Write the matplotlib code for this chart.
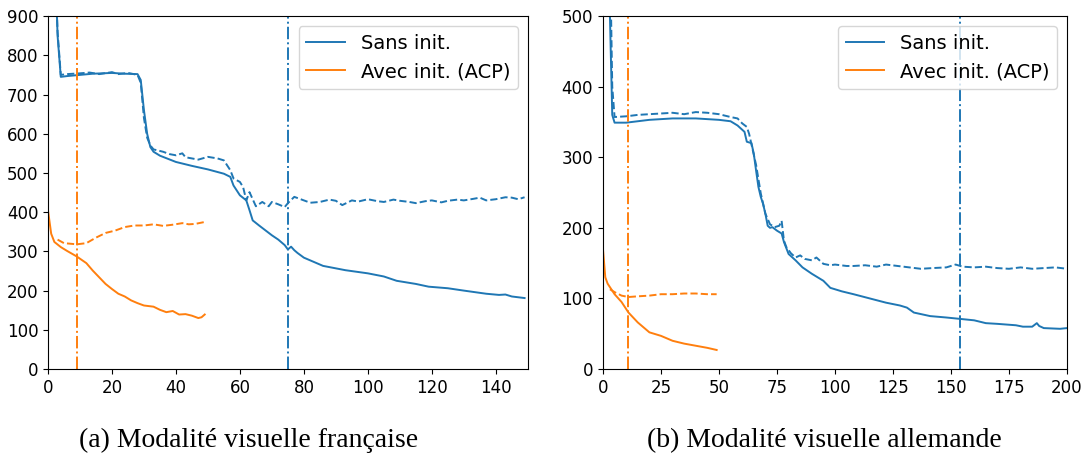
import matplotlib.pyplot as plt

# (a) visual modality, French
fr_x_sans = [0, 1, 2, 3, 4, 6, 10, 14, 20, 24, 28, 29, 30, 31, 32, 33, 35, 40, 45, 50, 55, 57, 58, 60, 62, 63,
             64, 66, 70, 72, 74, 75, 76, 77, 78, 80, 86, 93, 100, 105, 109, 115, 119, 125, 130, 137, 141, 143, 145, 149]
fr_y_sans = [3000, 2000, 1100, 850, 745, 747, 750, 753, 755, 753, 752, 737, 660, 600, 566, 554, 544, 528, 518, 509,
             498, 490, 468, 443, 430, 405, 379, 366, 341, 330, 316, 305, 312, 303, 296, 284, 263, 252, 244, 236, 225,
             217, 210, 206, 200, 192, 189, 190, 185, 181]
fr_x_sans_d = [0, 1, 2, 3, 4, 6, 10, 13, 16, 20, 22, 25, 28, 29, 30, 31, 32, 33, 36, 38, 40, 42, 43, 45, 47, 50,
               53, 55, 57, 58, 60, 61, 62, 63, 65, 67, 69, 70, 72, 74, 75, 77, 80, 82, 85, 88, 90, 92, 95, 97, 100,
               103, 105, 108, 110, 113, 115, 118, 120, 123, 125, 128, 130, 133, 135, 137, 140, 143, 145, 147, 149]
fr_y_sans_d = [3000, 2000, 1100, 860, 750, 752, 754, 756, 752, 757, 752, 755, 750, 730, 640, 590, 570, 560, 554,
               548, 545, 550, 540, 537, 534, 541, 537, 532, 507, 486, 477, 464, 430, 451, 415, 426, 415, 426, 420,
               413, 423, 439, 430, 424, 426, 432, 429, 418, 430, 427, 433, 428, 426, 432, 429, 426, 423, 428, 430,
               425, 429, 432, 430, 434, 437, 430, 433, 438, 437, 433, 438]
fr_x_acp = [0, 1, 2, 4, 6, 9, 12, 14, 16, 18, 20, 22, 24, 26, 28, 30, 33, 35, 37, 39, 41, 43, 45, 47, 48, 49]
fr_y_acp = [405, 345, 324, 311, 301, 287, 270, 251, 234, 217, 204, 192, 185, 175, 168, 162, 159, 151, 145, 148,
            139, 140, 136, 130, 132, 139]
fr_x_acp_d = [3, 5, 9, 12, 15, 18, 21, 24, 27, 30, 33, 36, 39, 42, 44, 46, 49]
fr_y_acp_d = [330, 321, 318, 321, 335, 347, 353, 362, 366, 366, 369, 365, 368, 372, 369, 370, 375]
fr_stop_sans = 75
fr_stop_acp = 9

# (b) visual modality, German
de_x_sans = [0, 2, 3, 4, 5, 10, 20, 30, 40, 50, 55, 58, 61, 62, 64, 65, 66, 67, 68, 69, 70, 71, 72, 73, 75, 77,
             78, 80, 83, 86, 90, 95, 98, 103, 108, 115, 122, 128, 131, 134, 141, 148, 154, 160, 165, 170, 174, 178,
             181, 185, 187, 188, 190, 197, 200]
de_y_sans = [1500, 800, 500, 360, 349, 349, 353, 355, 355, 353, 351, 345, 336, 322, 320, 305, 281, 258, 244, 234,
             220, 203, 200, 201, 196, 192, 180, 163, 154, 144, 135, 125, 115, 110, 106, 100, 94, 90, 87, 80, 75,
             73, 71, 69, 65, 64, 63, 62, 60, 60, 65, 61, 58, 57, 58]
de_x_sans_d = [0, 2, 3, 4, 5, 10, 15, 20, 25, 30, 35, 40, 45, 50, 55, 58, 60, 62, 63, 66, 68, 70, 72, 74, 76, 77,
               78, 79, 81, 83, 85, 87, 90, 92, 95, 98, 100, 105, 108, 113, 118, 122, 127, 132, 137, 142, 148, 152,
               155, 160, 165, 170, 175, 180, 185, 190, 195, 200]
de_y_sans_d = [1500, 900, 600, 400, 357, 358, 360, 361, 362, 363, 361, 364, 363, 361, 357, 355, 348, 343, 333,
               289, 249, 220, 205, 201, 203, 210, 182, 173, 164, 158, 161, 156, 154, 158, 149, 147, 148, 146, 146,
               147, 145, 148, 146, 144, 142, 143, 144, 148, 145, 144, 145, 143, 142, 144, 142, 143, 144, 142]
de_x_acp = [0, 1, 2, 5, 8, 11, 15, 20, 25, 30, 35, 40, 45, 49]
de_y_acp = [170, 130, 121, 106, 95, 80, 66, 52, 47, 40, 36, 33, 30, 27]
de_x_acp_d = [3, 5, 8, 11, 15, 20, 25, 30, 35, 40, 45, 49]
de_y_acp_d = [113, 109, 104, 102, 103, 104, 106, 106, 107, 107, 106, 106]
de_stop_sans = 154
de_stop_acp = 11

c_sans = '#1f77b4'
c_acp = '#ff7f0e'

fig = plt.figure(figsize=(10.88, 4.59), dpi=100)
ax1 = fig.add_axes([0.0441, 0.196, 0.441, 0.769])
ax2 = fig.add_axes([0.5542, 0.196, 0.4265, 0.769])

panels = [
    (ax1, fr_x_sans, fr_y_sans, fr_x_sans_d, fr_y_sans_d, fr_x_acp, fr_y_acp, fr_x_acp_d, fr_y_acp_d,
     fr_stop_sans, fr_stop_acp, 150, 900),
    (ax2, de_x_sans, de_y_sans, de_x_sans_d, de_y_sans_d, de_x_acp, de_y_acp, de_x_acp_d, de_y_acp_d,
     de_stop_sans, de_stop_acp, 200, 500),
]

for ax, xs, ys, xsd, ysd, xa, ya, xad, yad, stop_s, stop_a, xmax, ymax in panels:
    ax.plot(xs, ys, c=c_sans, lw=1.4, label='Sans init.')
    ax.plot(xa, ya, c=c_acp, lw=1.4, label='Avec init. (ACP)')
    ax.plot(xsd, ysd, c=c_sans, lw=1.4, ls='--')
    ax.plot(xad, yad, c=c_acp, lw=1.4, ls='--')
    ax.axvline(stop_s, c=c_sans, lw=1.4, ls='-.')
    ax.axvline(stop_a, c=c_acp, lw=1.4, ls='-.')
    ax.set_xlim(0, xmax)
    ax.set_ylim(0, ymax)
    ax.tick_params(axis='both', labelsize=12)
    ax.legend(loc='upper right', fontsize=14)

fig.text(0.228, 0.04, '(a) Modalité visuelle française', ha='center', va='center',
         fontsize=20, family='Liberation Serif')
fig.text(0.758, 0.04, '(b) Modalité visuelle allemande', ha='center', va='center',
         fontsize=20, family='Liberation Serif')

fig.savefig('out.png', dpi=100)
